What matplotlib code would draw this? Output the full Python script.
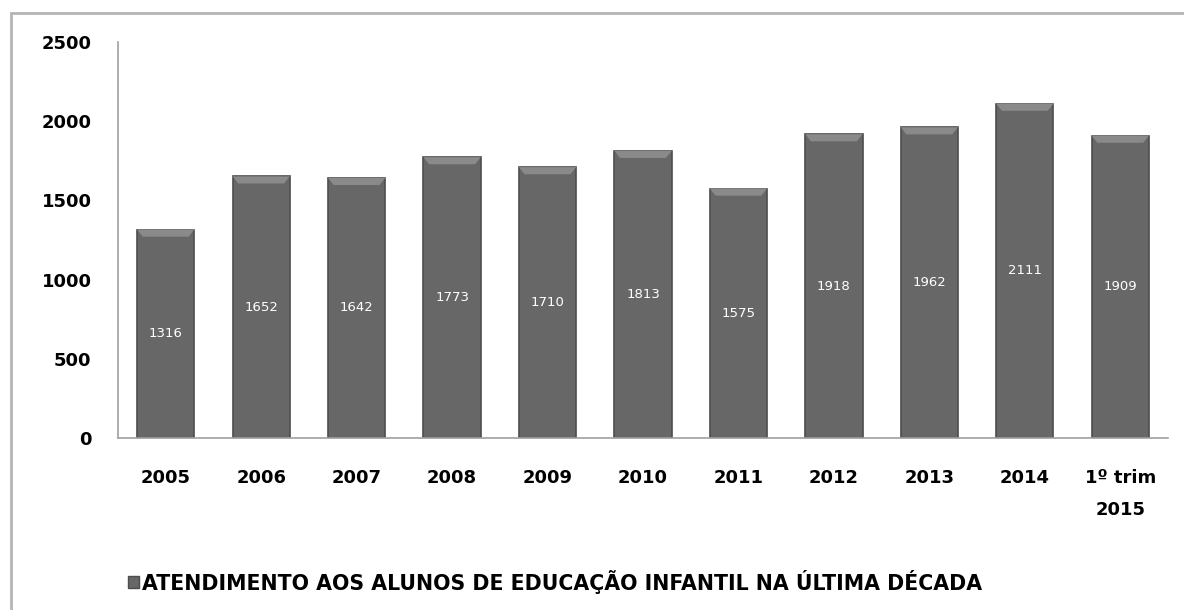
import matplotlib.pyplot as plt
from matplotlib.patches import Rectangle, Polygon

categorias = ["2005", "2006", "2007", "2008", "2009", "2010", "2011",
              "2012", "2013", "2014", "1º trim\n2015"]
atendimentos = [1316, 1652, 1642, 1773, 1710, 1813, 1575, 1918, 1962, 2111, 1909]
legenda = "ATENDIMENTO AOS ALUNOS DE EDUCAÇÃO INFANTIL NA ÚLTIMA DÉCADA"

W, H = 1184, 610
fig = plt.figure(figsize=(W / 100, H / 100), dpi=100)
fig.patch.set_facecolor("white")

# moldura do gráfico (cortada à direita e embaixo)
fig.patches.append(Rectangle((11 / W, -0.1), 1.2, 1 - 13 / H + 0.1,
                             transform=fig.transFigure, fill=False,
                             edgecolor="#b5b5b5", linewidth=2))

ax = fig.add_axes([118 / W, (H - 438) / H, 1050 / W, (438 - 42) / H])
x = list(range(len(categorias)))
largura = 0.6
barras = ax.bar(x, atendimentos, width=largura, color="#676767",
                edgecolor="#4d4d4d", linewidth=1.2, zorder=2)

# chanfro claro no topo de cada barra e rótulo com o valor
chanfro = 45
for xi, v in zip(x, atendimentos):
    l, r = xi - largura / 2, xi + largura / 2
    ax.add_patch(Polygon([(l, v), (r, v), (r - 0.06, v - chanfro),
                          (l + 0.06, v - chanfro)], closed=True,
                         facecolor="#8a8a8a", edgecolor="none", zorder=3))
    ax.text(xi, v / 2, str(v), ha="center", va="center", color="white",
            fontsize=9.5, zorder=4)

ax.set_xlim(-0.5, len(categorias) - 0.5)
ax.set_ylim(0, 2500)
ax.set_yticks([0, 500, 1000, 1500, 2000, 2500])
ax.set_xticks(x)
ax.set_xticklabels(categorias, fontsize=13, fontweight="bold", linespacing=2.0)
for lab in ax.get_yticklabels():
    lab.set_fontsize(13)
    lab.set_fontweight("bold")
ax.tick_params(axis="both", length=0)
ax.tick_params(axis="x", pad=22)
ax.tick_params(axis="y", pad=19)

ax.spines["top"].set_visible(False)
ax.spines["right"].set_visible(False)
ax.spines["left"].set_color("#a0a0a0")
ax.spines["bottom"].set_color("#a0a0a0")
ax.spines["left"].set_linewidth(1.2)
ax.spines["bottom"].set_linewidth(1.2)

# legenda
fig.patches.append(Rectangle((128 / W, (H - 588) / H), 11 / W, 12 / H,
                             transform=fig.transFigure, facecolor="#676767",
                             edgecolor="#4d4d4d", linewidth=1))
fig.text(142 / W, (H - 582) / H, legenda, fontsize=14.8, fontweight="bold",
         ha="left", va="center", color="black")

fig.savefig("out.png", dpi=100)
